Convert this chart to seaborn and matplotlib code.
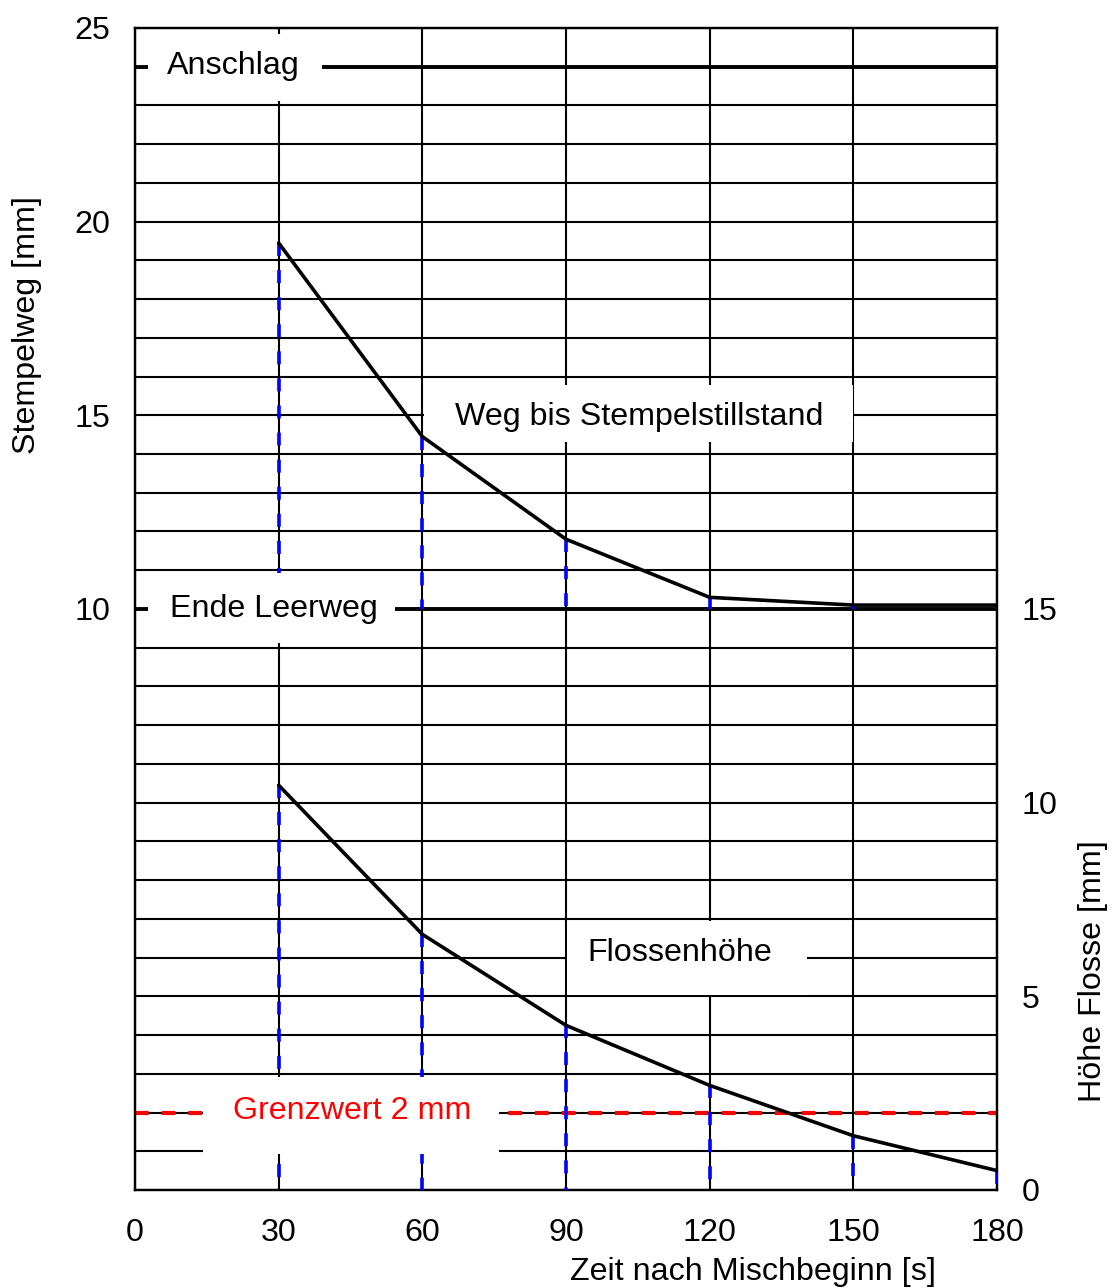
import numpy as np
import matplotlib
matplotlib.use("Agg")
import matplotlib.pyplot as plt
from matplotlib.patches import Rectangle
import seaborn as sns

# Messwerte
zeit = [30, 60, 90, 120, 150, 180]                      # s
stempelweg = [19.45, 14.45, 11.8, 10.3, 10.1, 10.1]     # mm (linke Achse)
flossenhoehe = [10.45, 6.6, 4.25, 2.7, 1.4, 0.5]        # mm (rechte Achse)

# Referenzlinien
anschlag = 24        # mm, linke Achse
ende_leerweg = 10    # mm, linke Achse
grenzwert = 2        # mm, rechte Achse

x_ticks = [0, 30, 60, 90, 120, 150, 180]
left_ticks = [10, 15, 20, 25]
right_ticks = [0, 5, 10, 15]

sns.set_theme(style="white")
plt.rcParams["font.family"] = ["Liberation Sans", "DejaVu Sans"]

FS = 23.2
fig = plt.figure(figsize=(11.12, 12.88), dpi=100)
ax = fig.add_axes([0.1214, 0.0761, 0.7752, 0.9022])
ax2 = ax.twinx()

ax.set_xlim(0, 180)
ax.set_ylim(-5, 25)
ax2.set_ylim(0, 30)

# Raster: jede Millimeterlinie, alle 30 s senkrecht
ax.set_xticks(x_ticks)
ax.set_yticks(left_ticks)
ax.set_yticks(np.arange(-5, 26, 1), minor=True)
ax.grid(axis="y", which="both", color="black", lw=1.5, zorder=0)
ax.grid(axis="x", which="major", color="black", lw=1.5, zorder=0)
ax.set_axisbelow(True)
ax2.set_yticks(right_ticks)
ax2.grid(False)

for a in (ax, ax2):
    for s in a.spines.values():
        s.set_color("black")
        s.set_linewidth(1.6)
    a.tick_params(which="both", length=0, labelsize=FS, colors="black")
ax.tick_params(axis="x", pad=20)
ax.tick_params(axis="y", pad=17.5)
ax2.tick_params(axis="y", pad=17.5)

# Horizontale Marken
ax.axhline(anschlag, color="black", lw=2.8, zorder=2)
ax.axhline(ende_leerweg, color="black", lw=2.8, zorder=2)
ax2.axhline(grenzwert, color="red", lw=3, ls=(0, (3.3, 3.1)), zorder=2)

# Senkrechte Hilfslinien von den Messpunkten
ax.vlines(zeit, stempelweg, ende_leerweg, colors="#0000ff", lw=2.6,
          linestyles=[(0, (3.6, 3.9))], zorder=3)
ax2.vlines(zeit, flossenhoehe, 0, colors="#0000ff", lw=2.6,
           linestyles=[(0, (3.6, 3.9))], zorder=3)

# Kurven
sns.lineplot(x=zeit, y=stempelweg, ax=ax, color="black", lw=2.6, zorder=6)
sns.lineplot(x=zeit, y=flossenhoehe, ax=ax2, color="black", lw=2.6, zorder=6)

# Beschriftungen mit weißem Hintergrund
def label(axis, text, tx, ty, box, color="black"):
    x0, x1, y0, y1 = box
    axis.add_patch(Rectangle((x0, y0), x1 - x0, y1 - y0, facecolor="white",
                             edgecolor="none", zorder=5))
    axis.text(tx, ty, text, fontsize=FS, color=color, ha="left",
              va="baseline", zorder=7)

label(ax, "Anschlag", 6.7, 23.81, (2.7, 39.0, 23.12, 24.85))
label(ax, "Ende Leerweg", 7.3, 9.79, (2.7, 54.3, 9.12, 10.93))
label(ax, "Weg bis Stempelstillstand", 66.8, 14.75, (60.4, 149.9, 14.31, 15.78))
label(ax2, "Flossenhöhe", 94.4, 5.91, (90.3, 140.3, 5.03, 6.94))
label(ax2, "Grenzwert 2 mm", 20.5, 1.83, (14.2, 76.0, 0.93, 2.91), color="red")

# Achsentitel
ax.set_xlabel("Zeit nach Mischbeginn [s]", fontsize=FS, loc="right", color="black")
ax.xaxis.set_label_coords(0.929, -0.0577)
ax.set_ylabel("Stempelweg [mm]", fontsize=FS, color="black")
ax.yaxis.set_label_coords(-0.108, 0.744)
ax2.set_ylabel("Höhe Flosse [mm]", fontsize=FS, color="black")
ax2.yaxis.set_label_coords(1.094, 0.188)

fig.savefig("out.png", dpi=100, facecolor="white")
